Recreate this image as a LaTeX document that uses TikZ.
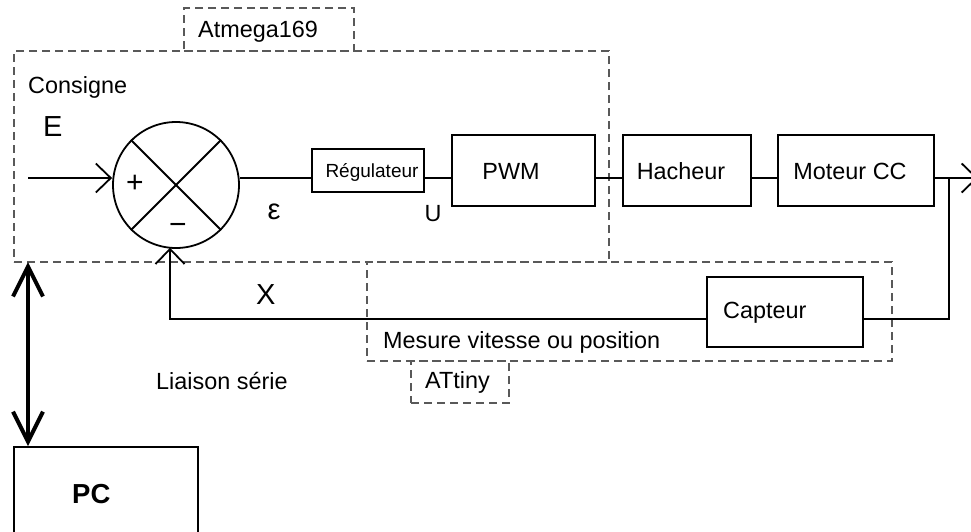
\documentclass[tikz,border=0pt]{standalone}
\usepackage{fontspec}
\setmainfont{Liberation Sans}
\usetikzlibrary{arrows.meta}
\begin{document}
\begin{tikzpicture}[x=1pt,y={(0pt,-1pt)},
  line/.style={line width=1.8pt, draw=black},
  dbox/.style={draw=black!65, line width=1.1pt, dash pattern=on 8pt off 5pt, rectangle, inner sep=0pt},
  blk/.style={draw=black, line width=1.8pt, rectangle, inner sep=0pt},
  txt/.style={font=\fontsize{23.4}{28}\selectfont, inner sep=0pt},
  small/.style={font=\fontsize{19}{23}\selectfont, inner sep=0pt},
  big/.style={font=\fontsize{29}{34}\selectfont, inner sep=0pt},
  sign/.style={font=\fontsize{30}{34}\selectfont, inner sep=0pt},
  barb/.style={-{Straight Barb[length=15pt,width=29pt]}},
]
\useasboundingbox (0,0) rectangle (971,531);
\clip (0,0) rectangle (971,531);

% dashed regions
\node[dbox, minimum width=595pt, minimum height=211pt] (atm) at (311.5,156.5) {};
\node[dbox, minimum width=170pt, minimum height=43pt] (atml) at (269,29.5) {};
\node[dbox, minimum width=525pt, minimum height=99pt] (mes) at (629.5,311.5) {};
\node[dbox, minimum width=98pt, minimum height=42pt] (att) at (460,382) {};

% blocks
\node[circle, draw=black, line width=1.8pt, minimum size=126pt, inner sep=0pt] (sum) at (176,185) {};
\node[blk, minimum width=112pt, minimum height=43pt] (reg) at (368,170.5) {};
\node[blk, minimum width=143pt, minimum height=71pt] (pwm) at (523.5,170.5) {};
\node[blk, minimum width=128pt, minimum height=71pt] (hach) at (687,170.5) {};
\node[blk, minimum width=156pt, minimum height=71pt] (mot) at (856,170.5) {};
\node[blk, minimum width=156pt, minimum height=70pt] (cap) at (785,312) {};
\node[blk, minimum width=184pt, minimum height=90pt] (pc) at (106,492) {};

% cross in summing junction
\draw[line] (sum.135) -- (sum.-45);
\draw[line] (sum.45) -- (sum.-135);

% coordinates
\coordinate (in) at (28,178);
\coordinate (out) at (978,178);
\coordinate (br) at (949,178);
\coordinate (fbr) at (949,319);
\coordinate (sb) at (170,247.7);
\coordinate (ser) at (28,262);

% main chain
\draw[line, barb] (in) -- (sum.west |- in);
\draw[line] (sum.east |- in) -- (reg.west |- in);
\draw[line] (reg.east |- in) -- (pwm.west |- in);
\draw[line] (pwm.east |- in) -- (hach.west |- in);
\draw[line] (hach.east |- in) -- (mot.west |- in);
\draw[line, barb] (mot.east |- in) -- (out);

% feedback
\draw[line] (br) -- (fbr) -- (cap.east |- fbr);
\draw[line, barb] (cap.west |- fbr) -| (sb);

% serial link
\draw[line width=4pt, {Straight Barb[length=30pt,width=30pt]}-{Straight Barb[length=30pt,width=30pt]}] (ser) -- (ser |- pc.north);

% texts
\node[txt, anchor=base west] (tatm) at (198,37) {Atmega169};
\node[txt, anchor=base west] (tcons) at (28,93) {Consigne};
\node[big, anchor=base west] (tE) at (43,136) {E};
\node[sign] (tplus) at (135,184) {+};
\node[sign] (tminus) at (178,229) {−};
\node[font=\fontsize{29}{34}\selectfont, inner sep=0pt, anchor=base] (teps) at (274,219) {ε};
\node[small, anchor=base] (treg) at (372,177.3) {Régulateur};
\node[txt, anchor=base] (tU) at (433,221) {U};
\node[txt, anchor=base] (tpwm) at (511,179) {PWM};
\node[txt, anchor=base] (thach) at (681,179) {Hacheur};
\node[txt, anchor=base] (tmot) at (850,179) {Moteur CC};
\node[txt, anchor=base west] (tcap) at (723,318) {Capteur};
\node[big, anchor=base west] (tX) at (256,304) {X};
\node[txt, anchor=base west] (tmes) at (383,348) {Mesure vitesse ou position};
\node[txt, anchor=base west] (tatt) at (425,388) {ATtiny};
\node[txt, anchor=base west] (tlia) at (156,389) {Liaison série};
\node[font=\fontsize{27.5}{32}\selectfont\bfseries, inner sep=0pt, anchor=base west] (tpc) at (72,503) {PC};
\end{tikzpicture}
\end{document}
